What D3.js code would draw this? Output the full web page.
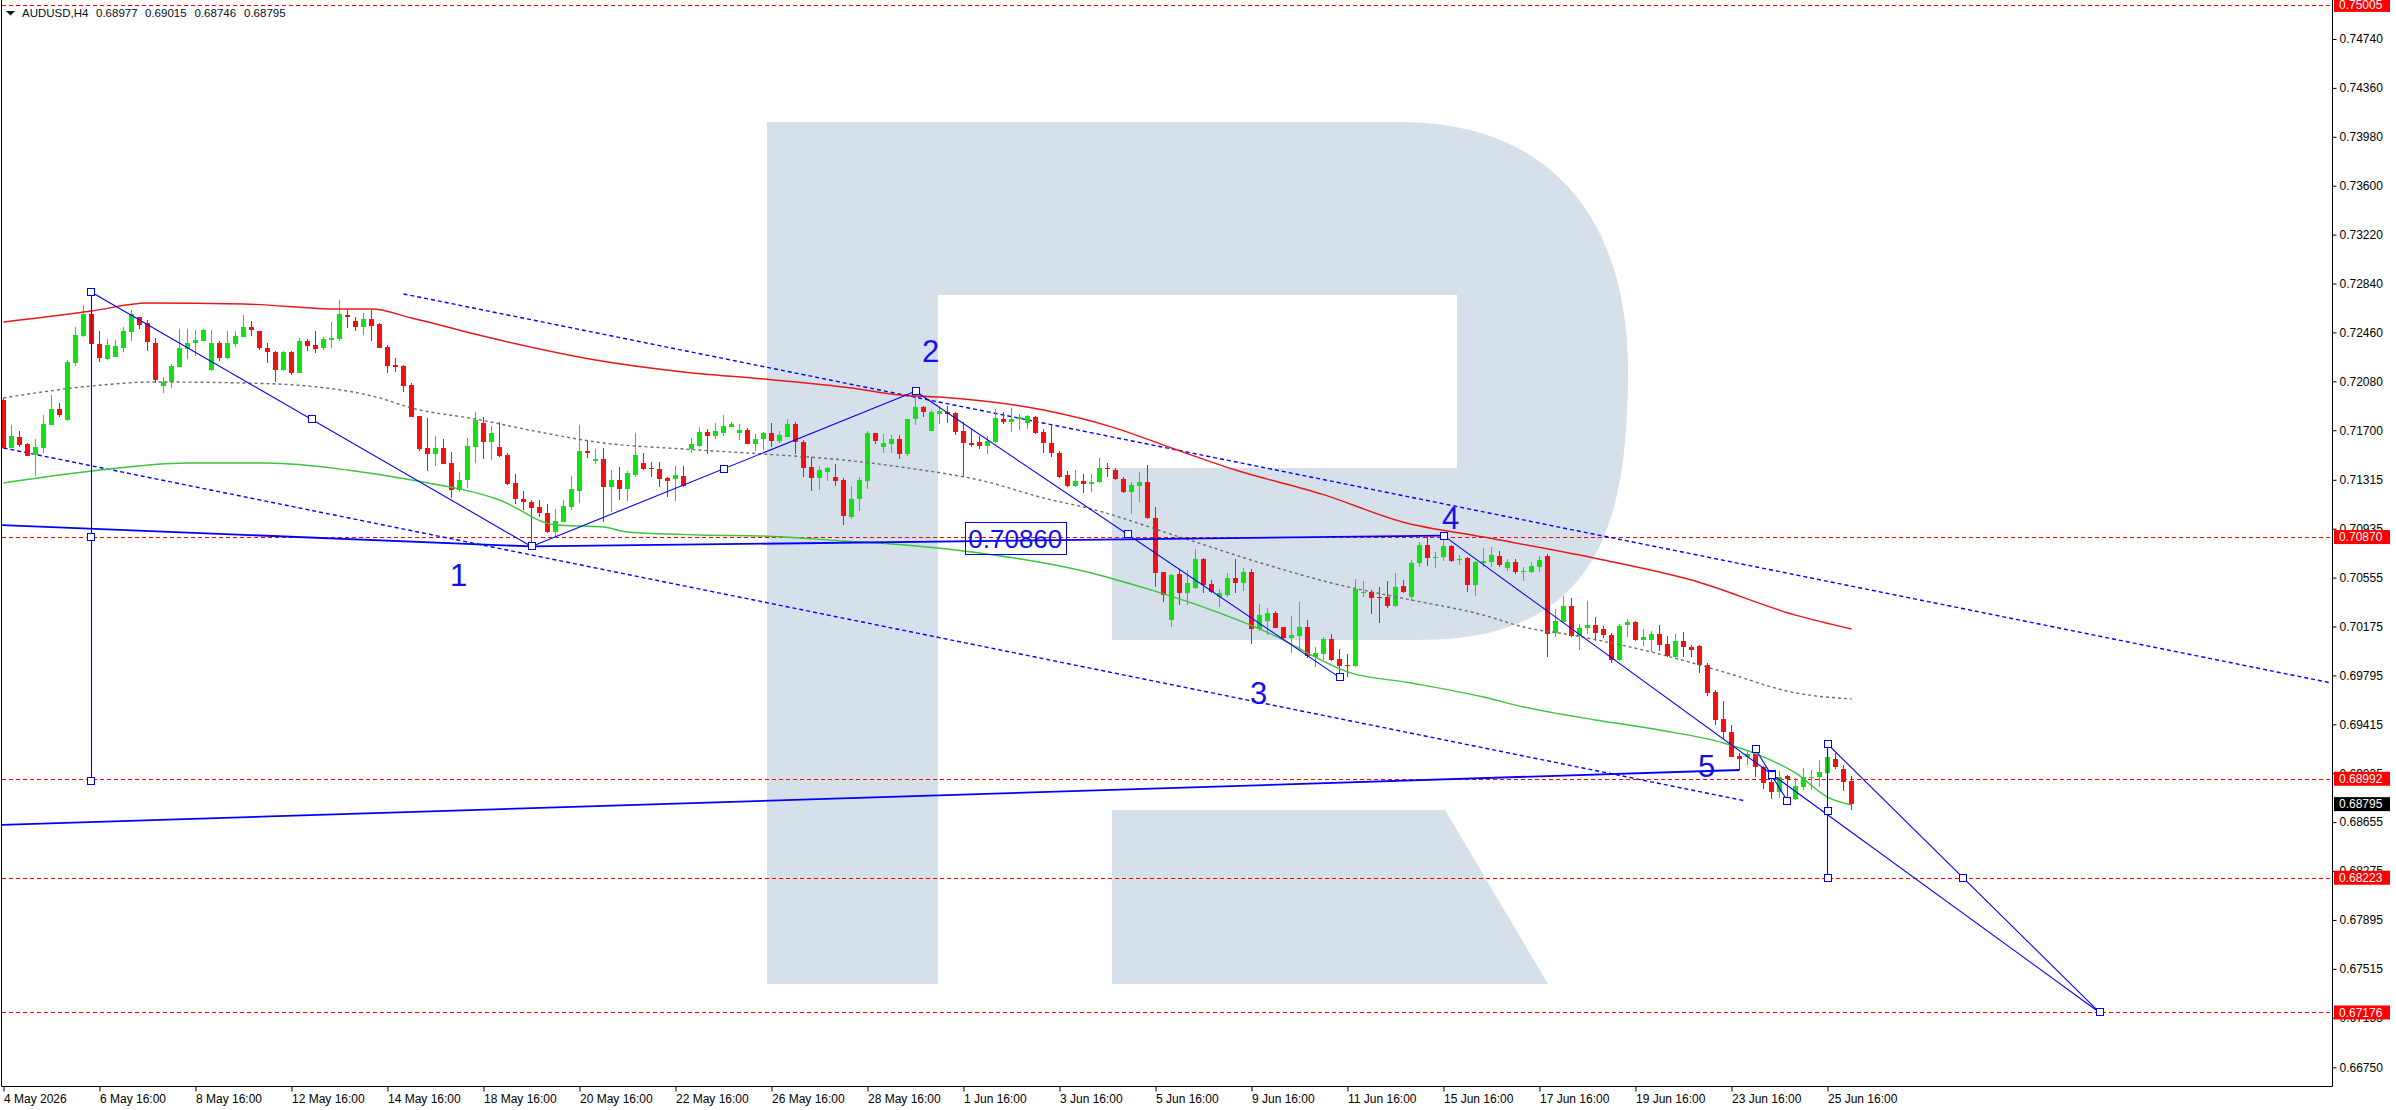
<!DOCTYPE html>
<html>
<head>
<meta charset="utf-8">
<title>AUDUSD H4</title>
<script src="https://cdn.jsdelivr.net/npm/d3@7/dist/d3.min.js"></script>
<style>
html,body{margin:0;padding:0;background:#ffffff;overflow:hidden;}
svg{display:block;}
text{font-family:"Liberation Sans",Arial,sans-serif;}
</style>
</head>
<body>
<svg id="chart" width="2396" height="1110"></svg>
<script>
// ================= DATA =================
const symbolName = "AUDUSD,H4";
const headerValues = ["0.68977", "0.69015", "0.68746", "0.68795"];

// H4 candles, first bar = 4 May 2026 16:00, last bar = 26 Jun 2026 04:00
const opens = [
0.71935,0.71564,0.71647,0.71593,0.71507,0.71564,0.71740,0.71865,0.71779,0.72225,
0.72434,0.72605,0.72370,0.72253,0.72271,0.72341,0.72466,0.72577,0.72530,0.72380,
0.72046,0.72072,0.72188,0.72328,0.72375,0.72396,0.72168,0.72380,0.72261,0.72370,
0.72427,0.72499,0.72471,0.72336,0.72310,0.72168,0.72310,0.72147,0.72393,0.72362,
0.72339,0.72406,0.72406,0.72598,0.72551,0.72504,0.72561,0.72523,0.72346,0.72207,
0.72199,0.72051,0.71810,0.71564,0.71518,0.71564,0.71445,0.71235,0.71313,0.71572,
0.71753,0.71611,0.71572,0.71510,0.71290,0.71165,0.71142,0.71101,0.71059,0.70912,
0.70989,0.71106,0.71230,0.71538,0.71463,0.71477,0.71262,0.71314,0.71241,0.71352,
0.71443,0.71407,0.71399,0.71332,0.71319,0.71345,0.71553,0.71580,0.71687,0.71658,
0.71679,0.71728,0.71681,0.71702,0.71596,0.71630,0.71681,0.71617,0.71650,0.71749,
0.71609,0.71415,0.71327,0.71378,0.71337,0.71314,0.71029,0.71169,0.71308,0.71676,
0.71572,0.71593,0.71630,0.71518,0.71785,0.71878,0.71697,0.71826,0.71845,0.71837,
0.71694,0.71598,0.71606,0.71580,0.71611,0.71788,0.71767,0.71785,0.71754,0.71806,
0.71684,0.71598,0.71521,0.71350,0.71269,0.71306,0.71282,0.71295,0.71409,0.71391,
0.71319,0.71223,0.71269,0.71295,0.71021,0.70596,0.70226,0.70581,0.70438,0.70472,
0.70697,0.70503,0.70407,0.70420,0.70549,0.70511,0.70601,0.70153,0.70220,0.70277,
0.70169,0.70088,0.70101,0.70169,0.69941,0.69961,0.70075,0.69920,0.69876,0.69871,
0.70433,0.70446,0.70407,0.70407,0.70334,0.70490,0.70402,0.70666,0.70808,0.70705,
0.70713,0.70801,0.70697,0.70705,0.70498,0.70666,0.70679,0.70720,0.70627,0.70679,
0.70596,0.70601,0.70640,0.70720,0.70122,0.70213,0.70335,0.70101,0.70166,0.70184,
0.70153,0.70109,0.69915,0.70187,0.70213,0.70070,0.70070,0.70117,0.70039,0.69941,
0.70063,0.70013,0.70024,0.69876,0.69666,0.69454,0.69356,0.69169,0.69164,0.69185,
0.69086,0.68970,0.68892,0.69014,0.68832,0.68931,0.69003,0.69009,0.69040,0.69148,
0.69065,0.68977];
const highs = [
0.71948,0.71740,0.71696,0.71598,0.71629,0.71818,0.71971,0.71909,0.72245,0.72504,
0.72673,0.72642,0.72471,0.72406,0.72401,0.72504,0.72634,0.72582,0.72556,0.72414,
0.72111,0.72214,0.72484,0.72484,0.72478,0.72486,0.72478,0.72396,0.72471,0.72471,
0.72595,0.72546,0.72471,0.72375,0.72318,0.72318,0.72315,0.72419,0.72406,0.72471,
0.72427,0.72541,0.72712,0.72634,0.72582,0.72608,0.72634,0.72530,0.72362,0.72258,
0.72207,0.72064,0.71810,0.71792,0.71655,0.71632,0.71531,0.71378,0.71639,0.71844,
0.71805,0.71735,0.71761,0.71525,0.71357,0.71230,0.71158,0.71158,0.71127,0.71085,
0.71158,0.71344,0.71740,0.71616,0.71551,0.71560,0.71391,0.71412,0.71384,0.71676,
0.71521,0.71456,0.71456,0.71339,0.71422,0.71422,0.71637,0.71728,0.71707,0.71754,
0.71819,0.71767,0.71746,0.71715,0.71671,0.71689,0.71759,0.71694,0.71785,0.71767,
0.71624,0.71490,0.71422,0.71417,0.71435,0.71327,0.71267,0.71334,0.71697,0.71681,
0.71671,0.71663,0.71663,0.71788,0.71995,0.71889,0.71857,0.71883,0.71891,0.71845,
0.71767,0.71710,0.71655,0.71655,0.71863,0.71844,0.71870,0.71826,0.71819,0.71811,
0.71707,0.71741,0.71539,0.71383,0.71391,0.71360,0.71360,0.71487,0.71448,0.71404,
0.71339,0.71301,0.71373,0.71430,0.71106,0.70601,0.70581,0.70619,0.70614,0.70775,
0.70705,0.70537,0.70467,0.70588,0.70697,0.70627,0.70619,0.70350,0.70316,0.70296,
0.70174,0.70259,0.70368,0.70226,0.70018,0.70096,0.70117,0.70000,0.69959,0.70542,
0.70529,0.70459,0.70479,0.70529,0.70593,0.70536,0.70692,0.70834,0.70873,0.70757,
0.70880,0.70808,0.70731,0.70713,0.70684,0.70783,0.70796,0.70760,0.70700,0.70700,
0.70640,0.70680,0.70720,0.70740,0.70309,0.70412,0.70394,0.70195,0.70373,0.70247,
0.70179,0.70122,0.70195,0.70231,0.70218,0.70153,0.70140,0.70187,0.70101,0.70117,
0.70135,0.70032,0.70032,0.69889,0.69682,0.69596,0.69410,0.69190,0.69216,0.69229,
0.69094,0.69027,0.69055,0.69021,0.68996,0.69073,0.69060,0.69138,0.69164,0.69190,
0.69099,0.69015];
const lows = [
0.71551,0.71559,0.71572,0.71500,0.71347,0.71525,0.71737,0.71805,0.71771,0.72199,
0.72427,0.72370,0.72232,0.72245,0.72266,0.72310,0.72393,0.72486,0.72318,0.72064,
0.71992,0.72030,0.72188,0.72256,0.72276,0.72393,0.72162,0.72240,0.72256,0.72349,
0.72422,0.72432,0.72323,0.72220,0.72077,0.72162,0.72129,0.72147,0.72318,0.72297,
0.72323,0.72336,0.72396,0.72491,0.72473,0.72440,0.72393,0.72336,0.72147,0.72155,
0.71999,0.71805,0.71541,0.71383,0.71422,0.71440,0.71176,0.71222,0.71248,0.71448,
0.71476,0.71468,0.71492,0.71272,0.71127,0.71080,0.70795,0.71028,0.70904,0.70860,
0.70984,0.71080,0.71137,0.71481,0.71435,0.70990,0.71068,0.71158,0.71153,0.71339,
0.71391,0.71339,0.71262,0.71184,0.71153,0.71257,0.71526,0.71572,0.71513,0.71635,
0.71655,0.71723,0.71624,0.71593,0.71541,0.71547,0.71567,0.71604,0.71645,0.71516,
0.71339,0.71231,0.71236,0.71308,0.71267,0.70967,0.71008,0.71075,0.71246,0.71593,
0.71526,0.71526,0.71479,0.71500,0.71741,0.71806,0.71694,0.71749,0.71754,0.71663,
0.71339,0.71573,0.71552,0.71516,0.71604,0.71749,0.71689,0.71702,0.71707,0.71671,
0.71521,0.71490,0.71326,0.71262,0.71257,0.71215,0.71223,0.71288,0.71339,0.71314,
0.71215,0.71047,0.71145,0.71013,0.70485,0.70368,0.70174,0.70342,0.70342,0.70464,
0.70433,0.70433,0.70329,0.70407,0.70433,0.70454,0.70039,0.70143,0.70109,0.70161,
0.70075,0.69972,0.69993,0.69928,0.69863,0.69915,0.69910,0.69790,0.69785,0.69863,
0.70402,0.70272,0.70200,0.70316,0.70329,0.70438,0.70376,0.70640,0.70648,0.70632,
0.70684,0.70679,0.70653,0.70446,0.70412,0.70635,0.70635,0.70640,0.70610,0.70580,
0.70531,0.70590,0.70601,0.69941,0.70096,0.70205,0.70091,0.69993,0.70117,0.70063,
0.70083,0.69894,0.69910,0.70091,0.70065,0.70024,0.69980,0.69988,0.69936,0.69936,
0.69936,0.69936,0.69817,0.69635,0.69410,0.69299,0.69159,0.69060,0.69099,0.69003,
0.68910,0.68832,0.68840,0.68827,0.68827,0.68905,0.68905,0.68931,0.69034,0.69065,
0.68900,0.68746];
const closes = [
0.71559,0.71655,0.71588,0.71502,0.71567,0.71748,0.71865,0.71818,0.72232,0.72440,
0.72605,0.72372,0.72258,0.72362,0.72354,0.72471,0.72600,0.72517,0.72383,0.72090,
0.72074,0.72199,0.72339,0.72375,0.72401,0.72478,0.72375,0.72258,0.72375,0.72432,
0.72499,0.72478,0.72336,0.72310,0.72168,0.72310,0.72142,0.72393,0.72357,0.72331,
0.72409,0.72414,0.72603,0.72582,0.72504,0.72561,0.72512,0.72341,0.72201,0.72194,
0.72043,0.71805,0.71551,0.71515,0.71564,0.71440,0.71235,0.71313,0.71580,0.71779,
0.71611,0.71676,0.71499,0.71282,0.71163,0.71140,0.71098,0.71059,0.70912,0.70994,
0.71114,0.71243,0.71538,0.71525,0.71476,0.71262,0.71314,0.71244,0.71365,0.71505,
0.71399,0.71396,0.71324,0.71308,0.71352,0.71270,0.71592,0.71687,0.71658,0.71694,
0.71733,0.71746,0.71702,0.71596,0.71632,0.71676,0.71619,0.71663,0.71749,0.71606,
0.71410,0.71329,0.71391,0.71410,0.71308,0.71036,0.71163,0.71314,0.71676,0.71619,
0.71604,0.71632,0.71518,0.71788,0.71878,0.71839,0.71845,0.71852,0.71826,0.71689,
0.71598,0.71588,0.71578,0.71617,0.71793,0.71767,0.71788,0.71800,0.71811,0.71681,
0.71604,0.71521,0.71339,0.71269,0.71303,0.71282,0.71300,0.71409,0.71396,0.71319,
0.71218,0.71275,0.71301,0.71021,0.70594,0.70420,0.70575,0.70433,0.70515,0.70697,
0.70498,0.70441,0.70433,0.70549,0.70511,0.70596,0.70153,0.70264,0.70277,0.70166,
0.70083,0.70109,0.70169,0.69946,0.69967,0.70075,0.69915,0.69868,0.69871,0.70464,
0.70446,0.70399,0.70402,0.70334,0.70479,0.70446,0.70671,0.70808,0.70705,0.70713,
0.70801,0.70687,0.70702,0.70498,0.70679,0.70684,0.70731,0.70655,0.70679,0.70596,
0.70606,0.70645,0.70692,0.70117,0.70218,0.70335,0.70101,0.70166,0.70184,0.70127,
0.70109,0.69915,0.70179,0.70213,0.70070,0.70091,0.70117,0.70032,0.69946,0.70063,
0.70013,0.69993,0.69876,0.69656,0.69449,0.69358,0.69164,0.69148,0.69185,0.69086,
0.68962,0.68892,0.69009,0.68988,0.68936,0.69003,0.69009,0.69045,0.69159,0.69086,
0.68970,0.68795];

// time axis
const timeTickBars = [0,12,24,36,48,60,72,84,96,108,120,132,144,156,168,180,192,204,216,228];
const timeTickLabels = ["4 May 2026","6 May 16:00","8 May 16:00","12 May 16:00","14 May 16:00",
  "18 May 16:00","20 May 16:00","22 May 16:00","26 May 16:00","28 May 16:00","1 Jun 16:00",
  "3 Jun 16:00","5 Jun 16:00","9 Jun 16:00","11 Jun 16:00","15 Jun 16:00","17 Jun 16:00",
  "19 Jun 16:00","23 Jun 16:00","25 Jun 16:00"];

// price axis
const priceTicks = [0.74740,0.74360,0.73980,0.73600,0.73220,0.72840,0.72460,0.72080,0.71700,
  0.71315,0.70935,0.70555,0.70175,0.69795,0.69415,0.69035,0.68655,0.68275,0.67895,0.67515,
  0.67135,0.66750];

// horizontal levels (red dashed, red price tags) and current price
const levelPrices = [0.75005, 0.70870, 0.68992, 0.68223, 0.67176];
const lastPrice = 0.68795;

// moving averages (sampled at bar indices)
const maRedBars = [0,11,18,30,42,46,51,62,74,85,95,106,112,117,130,139,146,154,165,175,185,200,211,224,231];
const maRedVals = [0.72541,0.72627,0.72689,0.72681,0.72642,0.72642,0.72572,0.72401,0.72246,0.72153,
  0.72098,0.72028,0.71974,0.71958,0.71857,0.71717,0.71562,0.71391,0.71200,0.70985,0.70870,0.70692,
  0.70536,0.70264,0.70156];
const maGrayBars = [0,11,19,30,38,47,51,59,67,75,85,95,105,113,122,131,135,147,158,166,176,185,190,196,207,215,224,231];
const maGrayVals = [0.71951,0.72044,0.72075,0.72067,0.72044,0.71951,0.71873,0.71787,0.71686,0.71601,
  0.71554,0.71515,0.71469,0.71407,0.71313,0.71158,0.71104,0.70871,0.70653,0.70513,0.70381,0.70264,
  0.70171,0.70109,0.69961,0.69822,0.69659,0.69612];
const maGreenBars = [0,11,23,33,43,51,62,69,75,78,87,95,105,111,120,136,143,151,160,163,168,176,185,190,199,207,215,220,224,228,231];
const maGreenVals = [0.71290,0.71383,0.71445,0.71445,0.71391,0.71313,0.71158,0.70964,0.70948,0.70909,
  0.70886,0.70878,0.70839,0.70816,0.70762,0.70591,0.70467,0.70303,0.70070,0.69969,0.69822,0.69736,
  0.69627,0.69550,0.69449,0.69371,0.69270,0.69162,0.69037,0.68850,0.68788];

// analysis objects (bar index, price)
const zigzagBars = [11, 66, 114, 167];
const zigzagVals = [0.72772, 0.70797, 0.72003, 0.69780];
const wave5Bars = [180, 262];
const wave5Vals = [0.70881, 0.67176];
const subWaveBars = [219, 223];
const subWaveVals = [0.69221, 0.68819];
const projBars = [228, 262];
const projVals = [0.69262, 0.67176];
const vert1Bars = [11, 11];
const vert1Vals = [0.72772, 0.68975];
const vert2Bars = [228, 228];
const vert2Vals = [0.69262, 0.68223];
const baseLeftBars = [-0.44, 66];
const baseLeftVals = [0.70964, 0.70797];
const base14Bars = [66, 180];
const base14Vals = [0.70797, 0.70881];
const supportBars = [-0.44, 217];
const supportVals = [0.68633, 0.69060];
const chanUpBars = [50, 291];
const chanUpVals = [0.72759, 0.69736];
const chanLoBars = [0, 217.8];
const chanLoVals = [0.71562, 0.68819];
const waveLabels = ["1", "2", "3", "4", "5"];
const waveLabelBars = [56.9, 115.9, 156.9, 180.9, 212.9];
const waveLabelVals = [0.70490, 0.72233, 0.69573, 0.70930, 0.69003];
const noteText = "0.70860";
const noteBar = 120.6;
const noteVal = 0.70860;

// ================= DRAW =================
const GREEN = "#12e012", RED = "#ee1212", BLUE = "#0000ff";
const plot = {left: 1.5, right: 2332.5, top: 0, bottom: 1086.5};
const svg = d3.select("#chart");
const x = d3.scaleLinear().domain([0, 231]).range([3.5, 1851.5]);
const y = d3.scaleLinear().domain([0.74740, 0.66750]).range([39, 1067.3]);
const fmt = d3.format(".5f");

svg.append("rect").attr("width", 2396).attr("height", 1110).attr("fill", "#fff");
svg.append("defs").append("clipPath").attr("id", "clip")
  .append("rect").attr("x", 2).attr("y", 0).attr("width", 2330).attr("height", 1086);

const area = svg.append("g").attr("clip-path", "url(#clip)");

// watermark logo
const wm = area.append("g").attr("fill", "#d6e0eb");
wm.append("rect").attr("x", 767).attr("y", 122).attr("width", 171).attr("height", 862);
wm.append("path").attr("d",
  "M938,122 H1400 C1560,122 1628,230 1628,370 C1628,520 1600,640 1420,640 H1112 V468 H1457 V295 H938 Z");
wm.append("path").attr("d", "M1112,810 H1445 L1548,984 H1112 Z");

// horizontal levels
area.selectAll("line.level").data(levelPrices).join("line")
  .attr("x1", 2).attr("x2", 2332)
  .attr("y1", d => Math.round(y(d)) + 0.5).attr("y2", d => Math.round(y(d)) + 0.5)
  .attr("stroke", "#ff0000").attr("stroke-width", 1).attr("stroke-dasharray", "4,3");

const lineGen = d3.line().x(d => x(d[0])).y(d => y(d[1]));
const curveGen = d3.line().x(d => x(d[0])).y(d => y(d[1])).curve(d3.curveMonotoneX);
const zipPts = (a, b) => a.map((v, i) => [v, b[i]]);

// channels (dotted)
[[chanUpBars, chanUpVals], [chanLoBars, chanLoVals]].forEach(([b, v]) => {
  area.append("path").attr("d", lineGen(zipPts(b, v))).attr("fill", "none")
    .attr("stroke", BLUE).attr("stroke-width", 1.4).attr("stroke-dasharray", "4,3");
});

// candles
const bars = d3.range(opens.length).map(i => ({i, o: opens[i], h: highs[i], l: lows[i], c: closes[i]}));
const cg = area.append("g").attr("shape-rendering", "crispEdges");
cg.selectAll("line").data(bars).join("line")
  .attr("x1", d => x(d.i)).attr("x2", d => x(d.i))
  .attr("y1", d => y(d.h)).attr("y2", d => y(d.l))
  .attr("stroke", d => d.c >= d.o ? GREEN : RED).attr("stroke-width", 1);
cg.selectAll("rect").data(bars).join("rect")
  .attr("x", d => x(d.i) - 2.5).attr("width", 5)
  .attr("y", d => Math.min(y(d.o), y(d.c)))
  .attr("height", d => Math.max(1.2, Math.abs(y(d.o) - y(d.c))))
  .attr("fill", d => d.c >= d.o ? GREEN : RED);

// moving averages
area.append("path").attr("d", curveGen(zipPts(maRedBars, maRedVals)))
  .attr("fill", "none").attr("stroke", "#e81818").attr("stroke-width", 1.4);
area.append("path").attr("d", curveGen(zipPts(maGrayBars, maGrayVals)))
  .attr("fill", "none").attr("stroke", "#6e6e6e").attr("stroke-width", 1.4).attr("stroke-dasharray", "3,3");
area.append("path").attr("d", curveGen(zipPts(maGreenBars, maGreenVals)))
  .attr("fill", "none").attr("stroke", "#3cc43c").attr("stroke-width", 1.4);

// thick base lines
[[baseLeftBars, baseLeftVals], [base14Bars, base14Vals], [supportBars, supportVals]].forEach(([b, v]) => {
  area.append("path").attr("d", lineGen(zipPts(b, v))).attr("fill", "none")
    .attr("stroke", BLUE).attr("stroke-width", 1.8);
});

// thin selected objects with markers
const objects = [];
for (let k = 0; k < zigzagBars.length - 1; k++) {
  objects.push([[zigzagBars[k], zigzagVals[k]], [zigzagBars[k + 1], zigzagVals[k + 1]]]);
}
objects.push(zipPts(wave5Bars, wave5Vals));
objects.push(zipPts(subWaveBars, subWaveVals));
objects.push(zipPts(projBars, projVals));
objects.push(zipPts(vert1Bars, vert1Vals));
objects.push(zipPts(vert2Bars, vert2Vals));
const markers = [];
objects.forEach(pts => {
  area.append("path").attr("d", lineGen(pts)).attr("fill", "none")
    .attr("stroke", BLUE).attr("stroke-width", 1.1);
  markers.push(pts[0], pts[1], [(pts[0][0] + pts[1][0]) / 2, (pts[0][1] + pts[1][1]) / 2]);
});
area.selectAll("rect.mk").data(markers).join("rect")
  .attr("x", d => Math.round(x(d[0])) - 3.5).attr("y", d => Math.round(y(d[1])) - 3.5)
  .attr("width", 7).attr("height", 7)
  .attr("fill", "#fff").attr("stroke", BLUE).attr("stroke-width", 1);

// wave labels
area.selectAll("text.wave").data(waveLabels).join("text")
  .attr("x", (d, i) => x(waveLabelBars[i])).attr("y", (d, i) => y(waveLabelVals[i]))
  .attr("text-anchor", "middle").attr("font-size", 31).attr("fill", "#1010ee").text(d => d);

// price note box
const nx = x(noteBar), ny = y(noteVal) + 9.6;
const nt = area.append("text").attr("x", nx).attr("y", ny).attr("font-size", 26)
  .attr("fill", "#1010ee").text(noteText);
const nw = nt.node().getComputedTextLength();
area.insert("rect", "text").attr("x", Math.round(nx - 3) + 0.5).attr("y", Math.round(ny - 26) + 0.5)
  .attr("width", Math.round(nw + 7)).attr("height", 32)
  .attr("fill", "none").attr("stroke", BLUE).attr("stroke-width", 1);

// frame
svg.append("path").attr("d", `M${plot.left},${plot.top} V${plot.bottom} H${plot.right} V${plot.top}`)
  .attr("fill", "none").attr("stroke", "#000").attr("stroke-width", 1);

// right axis
const yAxis = d3.axisRight(y).tickValues(priceTicks).tickSize(4).tickPadding(3).tickFormat(fmt);
const ya = svg.append("g").attr("transform", "translate(2332.5,0)").call(yAxis);
ya.select(".domain").remove();
ya.selectAll("text").attr("font-family", "Liberation Sans, Arial, sans-serif").attr("font-size", 12).attr("fill", "#000");
ya.selectAll("line").attr("stroke", "#000");

// bottom axis
const xAxis = d3.axisBottom(x).tickValues(timeTickBars).tickSize(5).tickPadding(3)
  .tickFormat((d, i) => timeTickLabels[i]);
const xa = svg.append("g").attr("transform", "translate(0,1086.5)").call(xAxis);
xa.select(".domain").remove();
xa.selectAll("text").attr("text-anchor", "start").attr("font-family", "Liberation Sans, Arial, sans-serif")
  .attr("font-size", 12).attr("fill", "#000");
xa.selectAll("line").attr("stroke", "#000");

// price tags
const tags = levelPrices.map(p => ({p, bg: "#ff0000"})).concat([{p: lastPrice, bg: "#000000"}]);
const tg = svg.append("g");
tags.forEach(t => {
  const cy = y(t.p);
  tg.append("rect").attr("x", 2334).attr("y", cy - 7).attr("width", 56).attr("height", 14).attr("fill", t.bg);
  tg.append("text").attr("x", 2339).attr("y", cy).attr("dy", "0.35em").attr("font-size", 12)
    .attr("fill", "#fff").text(fmt(t.p));
});

// header
svg.append("path").attr("d", "M6,11 L15,11 L10.5,15.5 Z").attr("fill", "#111");
const hdrX = [22, 96, 145, 194.5, 244];
const hdrT = [symbolName].concat(headerValues);
svg.selectAll("text.hdr").data(hdrT).join("text")
  .attr("x", (d, i) => hdrX[i]).attr("y", 17).attr("font-size", 11.5).attr("fill", "#0a0a2a").text(d => d);
</script>
</body>
</html>
